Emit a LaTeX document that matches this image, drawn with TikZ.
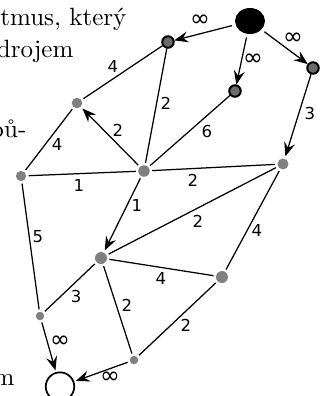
\documentclass[tikz,border=0pt]{standalone}
\usepackage{fontspec}
\newfontfamily\labfont{DejaVu Sans}
\usetikzlibrary{arrows.meta,shapes.geometric}
\begin{document}
\begin{tikzpicture}[x=0.4pt,y=-0.4pt,
  every path/.style={line width=0.5pt},
  vtx/.style={circle,fill=gray,draw=none,inner sep=0pt,minimum size=#1,outer sep=1pt},
  vtx/.default=4.4pt,
  bvtx/.style={circle,fill=black!58,draw=black,line width=0.8pt,inner sep=0pt,minimum size=4.6pt,outer sep=0.3pt},
  src/.style={ellipse,fill=black,inner sep=0pt,minimum width=12pt,minimum height=10.4pt,outer sep=1.5pt},
  snk/.style={circle,draw=black,line width=0.7pt,inner sep=0pt,minimum size=11.4pt,outer sep=1pt},
  edge/.style={draw=black},
  arr/.style={draw=black,-{Stealth[length=5.6pt,width=4.4pt,inset=2pt]}},
  lab/.style={font=\labfont\fontsize{6.6}{8}\selectfont,inner sep=0pt},
  inf/.style={font=\labfont\fontsize{9.5}{10}\selectfont,inner sep=0pt},
  txt/.style={anchor=base east,inner sep=0pt,font=\fontsize{10}{12}\selectfont}
]
\useasboundingbox (0,0) rectangle (330,396);

% surrounding text fragments
\node[txt] (t1) at (127,25) {tmus, který};
\node[txt] (t2) at (74,57) {drojem};
\node[txt] (t3) at (27,137) {pů-};
\node[txt] (t4) at (15,385) {m};

% nodes
\node[src] (S) at (250,21) {};
\node[bvtx] (A) at (168,42) {};
\node[bvtx] (B) at (235,91) {};
\node[bvtx] (C) at (313,68) {};
\node[vtx=4.2pt] (D) at (77,103) {};
\node[vtx=4.1pt] (E) at (21,176) {};
\node[vtx=4.6pt] (F) at (144,171) {};
\node[vtx=4.4pt] (G) at (283,164) {};
\node[vtx=4.8pt] (H) at (101,258) {};
\node[vtx=4.8pt] (I) at (222,277) {};
\node[vtx=3.4pt] (J) at (40,316) {};
\node[vtx=3.4pt] (K) at (134,360) {};
\node[snk] (T) at (60,386.6) {};

% arrows
\draw[arr] (S) -- (A);
\draw[arr] (S) -- (B);
\draw[arr] (S) -- (C);
\draw[arr] (C) -- (G);
\draw[arr] (F) -- (D);
\draw[arr] (F) -- (H);
\draw[arr] (J) -- (T);
\draw[arr] (K) -- (T);

% plain edges
\draw[edge] (A) -- (D);
\draw[edge] (A) -- (F);
\draw[edge] (B) -- (F);
\draw[edge] (D) -- (E);
\draw[edge] (E) -- (F);
\draw[edge] (F) -- (G);
\draw[edge] (G) -- (H);
\draw[edge] (G) -- (I);
\draw[edge] (E) -- (J);
\draw[edge] (H) -- (I);
\draw[edge] (H) -- (J);
\draw[edge] (H) -- (K);
\draw[edge] (I) -- (K);

% labels
\node[inf] (lSA) at (200,21) {∞};
\node[inf] (lSB) at (253,60) {∞};
\node[inf] (lSC) at (293,39) {∞};
\node[lab] (lAD) at (113,66) {4};
\node[lab] (lAF) at (166,103) {2};
\node[lab] (lFD) at (118,130) {2};
\node[lab] (lBF) at (207,131) {6};
\node[lab] (lCG) at (310,113) {3};
\node[lab] (lDE) at (57,144) {4};
\node[lab] (lEF) at (79,185) {1};
\node[lab] (lFG) at (193,180) {2};
\node[lab] (lFH) at (137,205) {1};
\node[lab] (lGH) at (198,221) {2};
\node[lab] (lGI) at (257,230) {4};
\node[lab] (lEJ) at (38,237) {5};
\node[lab] (lHI) at (161,278) {4};
\node[lab] (lHJ) at (76,296) {3};
\node[lab] (lHK) at (127,305) {2};
\node[lab] (lIK) at (186,325) {2};
\node[inf] (lJT) at (60,342) {∞};
\node[inf] (lKT) at (110,378) {∞};
\end{tikzpicture}
\end{document}
